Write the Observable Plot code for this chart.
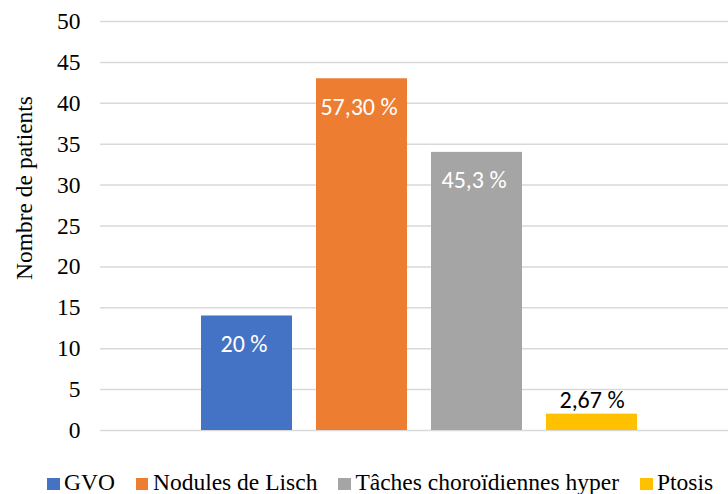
<!DOCTYPE html>
<html>
<head>
<meta charset="utf-8">
<script src="https://cdn.jsdelivr.net/npm/d3@7"></script>
<script src="https://cdn.jsdelivr.net/npm/@observablehq/plot@0.6"></script>
<style>
  html, body { margin: 0; padding: 0; background: #fff; }
  #chart { width: 728px; height: 494px; position: relative; overflow: hidden; }
  .legend {
    display: flex; align-items: baseline;
    font-family: "Liberation Serif", "Times New Roman", serif;
    font-size: 23.5px; line-height: 28px; color: #000;
    padding-top: 2px; padding-left: 47px; white-space: nowrap;
  }
  .legend .item { display: inline-flex; align-items: baseline; margin-right: 21px; }
  .legend .sw { display: inline-block; width: 12.5px; height: 12.5px; margin-right: 4.5px; }
</style>
</head>
<body>
<div id="chart"></div>
<script>
const categories = ["GVO", "Nodules de Lisch", "Tâches choroïdiennes hyper", "Ptosis"];
const patients = [14, 43, 34, 2];
const percentLabels = ["20 %", "57,30 %", "45,3 %", "2,67 %"];
const colors = ["#4472C4", "#ED7D31", "#A5A5A5", "#FFC000"];
const yTicks = [0, 5, 10, 15, 20, 25, 30, 35, 40, 45, 50];
const yLabel = "Nombre de patients";

const data = categories.map((c, i) => ({category: c, value: patients[i], label: percentLabels[i]}));

const serif = "Liberation Serif, Times New Roman, serif";
const sans = "Carlito, Calibri, Open Sans, sans-serif";

const plot = Plot.plot({
  width: 728,
  height: 466,
  marginLeft: 100,
  marginRight: 0,
  marginTop: 21,
  marginBottom: 36,
  style: {background: "#fff", fontFamily: serif, color: "#000"},
  x: {type: "band", domain: categories, range: [100, 739], paddingInner: 0.207, paddingOuter: 0.858, axis: null},
  y: {domain: [0, 50], axis: null},
  color: {domain: categories, range: colors},
  marks: [
    Plot.ruleY(yTicks, {stroke: "#d9d9d9", strokeWidth: 1.5}),
    Plot.barY(data, {x: "category", y: "value", fill: "category"}),
    Plot.axisY({ticks: yTicks, tickSize: 0, tickPadding: 20, fontSize: 23.5, fontFamily: serif, fill: "#000", label: null}),
    Plot.text(data.filter(d => d.value > 5), {x: "category", y: "value", text: "label", fill: "white",
      lineAnchor: "bottom", dy: 36, dx: -3, fontSize: 24, fontFamily: sans}),
    Plot.text(data.filter(d => d.value <= 5), {x: "category", y: "value", text: "label", fill: "#000",
      lineAnchor: "bottom", dy: -6, fontSize: 24, fontFamily: sans}),
    Plot.text([yLabel], {frameAnchor: "left", text: d => d, rotate: -90, dx: -69, dy: -38,
      lineAnchor: "bottom", textAnchor: "middle", fontSize: 23.5, fontFamily: serif, fill: "#000"})
  ]
});

const chart = document.getElementById("chart");
chart.appendChild(plot);

const legend = document.createElement("div");
legend.className = "legend";
categories.forEach((c, i) => {
  const item = document.createElement("span");
  item.className = "item";
  const sw = document.createElement("span");
  sw.className = "sw";
  sw.style.background = colors[i];
  const t = document.createElement("span");
  t.textContent = c;
  item.appendChild(sw);
  item.appendChild(t);
  legend.appendChild(item);
});
chart.appendChild(legend);
</script>
</body>
</html>
